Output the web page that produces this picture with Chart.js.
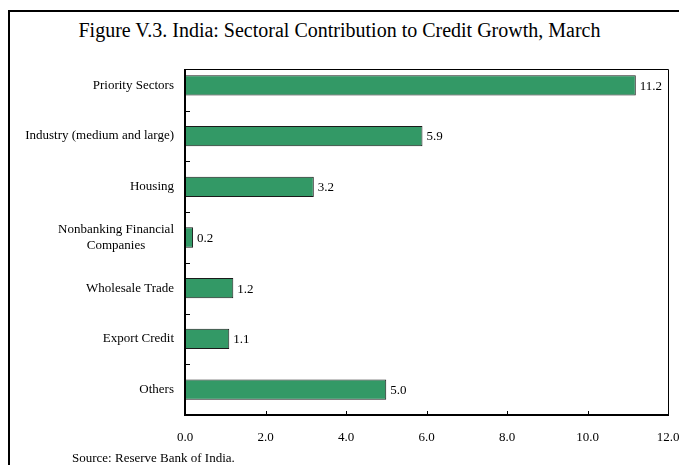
<!DOCTYPE html>
<html>
<head>
<meta charset="utf-8">
<script src="https://cdn.jsdelivr.net/npm/chart.js"></script>
<style>
    body { margin: 0; background: #fff; }
    #wrap { position: relative; width: 679px; height: 465px; overflow: hidden; font-family: "Liberation Serif", "Times New Roman", serif; color: #000; }
    #frame { position: absolute; left: 8px; top: 10px; width: 720px; height: 520px; border-left: 2px solid #000; border-top: 2px solid #000; }
    #title { position: absolute; left: 0; width: 679px; top: 19px; text-align: center; font-size: 20px; white-space: nowrap; }
    #source { position: absolute; left: 72px; top: 450px; font-size: 13px; white-space: nowrap; }
    canvas { position: absolute; left: 0; top: 0; }
</style>
</head>
<body>
<div id="wrap">
    <div id="frame"></div>
    <div id="title">Figure V.3. India: Sectoral Contribution to Credit Growth, March</div>
    <canvas id="creditChart" width="679" height="465"></canvas>
    <div id="source">Source: Reserve Bank of India.</div>
</div>
<script>
// sectors, top to bottom
const categories = [
    "Priority Sectors",
    "Industry (medium and large)",
    "Housing",
    ["Nonbanking Financial", "Companies"],
    "Wholesale Trade",
    "Export Credit",
    "Others"
];
// contribution to credit growth, percentage points
const contributions = [11.2, 5.9, 3.2, 0.2, 1.2, 1.1, 5.0];
// x axis range and step
const xMin = 0;
const xMax = 12;
const xStep = 2;

const serif = "'Liberation Serif', 'Times New Roman', serif";

// draws the plot box, inside tick marks, axis/category labels and bar values
const framePlugin = {
    id: "frame",
    afterDatasetsDraw(chart) {
        const ctx = chart.ctx;
        const x = chart.scales.x;
        const y = chart.scales.y;
        const left = x.getPixelForValue(xMin);
        const right = x.getPixelForValue(xMax);
        const bottom = chart.chartArea.bottom;
        const top = 69;

        ctx.save();
        ctx.strokeStyle = "#000";

        // thin top and right sides
        ctx.lineWidth = 1;
        ctx.beginPath();
        ctx.moveTo(left, top + 0.5);
        ctx.lineTo(right + 0.5, top + 0.5);
        ctx.lineTo(right + 0.5, bottom);
        ctx.stroke();

        // heavier axes
        ctx.lineWidth = 2;
        ctx.beginPath();
        ctx.moveTo(left, top);
        ctx.lineTo(left, bottom);
        ctx.lineTo(right + 1, bottom);
        ctx.stroke();

        // y ticks between categories
        ctx.lineWidth = 1;
        for (let i = 0; i < categories.length - 1; i++) {
            const py = Math.round((y.getPixelForValue(i) + y.getPixelForValue(i + 1)) / 2) + 0.5;
            ctx.beginPath();
            ctx.moveTo(left, py);
            ctx.lineTo(left + 5, py);
            ctx.stroke();
        }

        ctx.fillStyle = "#000";
        ctx.font = "13px " + serif;
        ctx.textBaseline = "middle";

        // x ticks pointing up, labels below
        ctx.textAlign = "center";
        x.ticks.forEach(t => {
            const px = x.getPixelForValue(t.value);
            if (t.value > xMin && t.value < xMax) {
                ctx.beginPath();
                ctx.moveTo(Math.round(px) + 0.5, bottom);
                ctx.lineTo(Math.round(px) + 0.5, bottom - 4);
                ctx.stroke();
            }
            ctx.fillText(t.value.toFixed(1), px, 438);
        });

        // category labels, right aligned, multi-line centred on each other
        const labelRight = 174;
        const lineH = 16;
        chart.data.labels.forEach((lab, i) => {
            const lines = Array.isArray(lab) ? lab : [lab];
            const w = Math.max(...lines.map(s => ctx.measureText(s).width));
            const cy = y.getPixelForValue(i);
            const cx = labelRight - w / 2;
            lines.forEach((s, k) => {
                ctx.fillText(s, cx, cy + (k - (lines.length - 1) / 2) * lineH);
            });
        });

        // values at bar ends
        ctx.textAlign = "left";
        const meta = chart.getDatasetMeta(0);
        meta.data.forEach((bar, i) => {
            ctx.fillText(contributions[i].toFixed(1), bar.x + 4, bar.y + 1);
        });

        ctx.restore();
    }
};

function drawChart() {
    const ctx = document.getElementById("creditChart").getContext("2d");
    new Chart(ctx, {
        type: "bar",
        data: {
            labels: categories,
            datasets: [{
                data: contributions,
                backgroundColor: "#339966",
                borderColor: "#1a1a1a",
                borderWidth: 1,
                borderSkipped: false,
                categoryPercentage: 0.4,
                barPercentage: 1
            }]
        },
        options: {
            indexAxis: "y",
            responsive: false,
            animation: false,
            layout: {
                padding: { left: 185, right: 11, top: 60, bottom: 50 }
            },
            plugins: {
                legend: { display: false },
                tooltip: { enabled: false }
            },
            scales: {
                y: { display: false, offset: true },
                x: {
                    display: false,
                    min: xMin,
                    max: xMax,
                    ticks: { stepSize: xStep }
                }
            }
        },
        plugins: [framePlugin]
    });
}

// make sure the serif face is ready before the canvas text is drawn
document.fonts.load("13px 'Liberation Serif'").then(drawChart, drawChart);
</script>
</body>
</html>
